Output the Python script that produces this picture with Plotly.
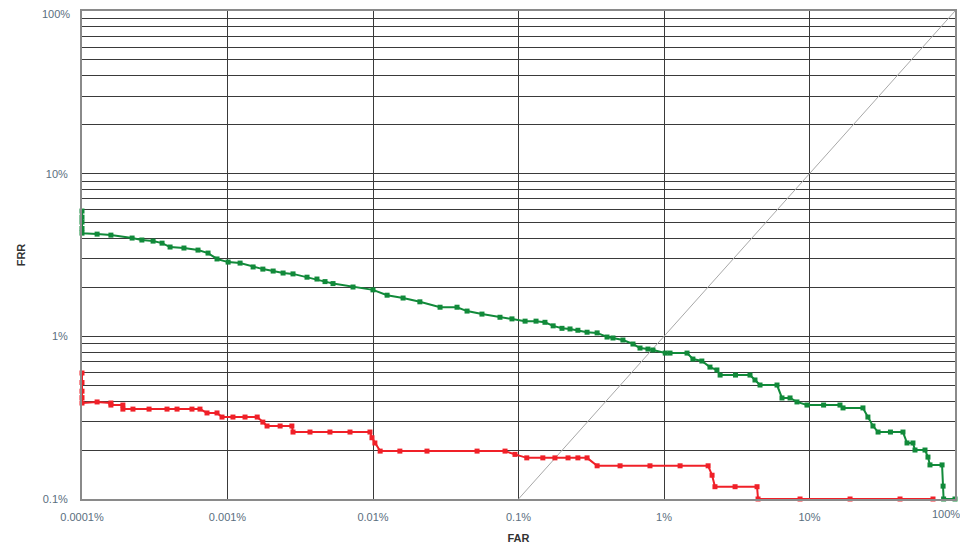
import plotly.graph_objects as go

# ---- data (percent) ----
green_far = [1e-4, 1e-4, 1e-4, 1e-4, 1e-4,
             1.27e-4, 1.58e-4, 2.21e-4, 2.58e-4, 3.08e-4, 3.55e-4, 4.03e-4, 5.02e-4,
             6.27e-4, 7.35e-4, 8.47e-4, 1.01e-3, 1.22e-3, 1.50e-3, 1.75e-3, 2.06e-3,
             2.41e-3, 2.82e-3, 3.52e-3, 4.12e-3, 4.68e-3, 5.31e-3, 7.29e-3, 0.01,
             0.0125, 0.0161, 0.0210, 0.0289, 0.0378, 0.0443, 0.0561, 0.0746, 0.0902,
             0.111, 0.132, 0.152, 0.173, 0.199, 0.226, 0.256, 0.296, 0.347, 0.406,
             0.446, 0.522, 0.612, 0.684, 0.776, 0.840, 1.02, 1.10, 1.44, 1.58, 1.82,
             2.07, 2.31, 2.43, 3.1, 3.90, 4.22, 4.57, 5.98, 6.47, 7.35, 8.20, 9.61,
             12.5, 16.2, 17.0, 23.3, 25.2, 27.3, 29.6, 36.0, 43.9, 46.8, 51.4, 53.1,
             62.2, 65.2, 67.3, 81.5, 82.8, 83.5, 100]
green_frr = [5.89, 5.4, 5.04, 4.6, 4.31,
             4.25, 4.19, 4.02, 3.91, 3.85, 3.74, 3.54, 3.49,
             3.39, 3.25, 2.99, 2.86, 2.82, 2.67, 2.59, 2.52,
             2.45, 2.42, 2.31, 2.25, 2.17, 2.11, 2.01, 1.93,
             1.79, 1.72, 1.63, 1.51, 1.51, 1.43, 1.37, 1.31, 1.28,
             1.24, 1.24, 1.22, 1.16, 1.12, 1.11, 1.09, 1.06, 1.05, 0.99,
             0.977, 0.949, 0.897, 0.847, 0.835, 0.824, 0.789, 0.789, 0.789, 0.725, 0.705,
             0.647, 0.621, 0.578, 0.578, 0.578, 0.539, 0.502, 0.502, 0.418, 0.418, 0.395, 0.378,
             0.378, 0.378, 0.363, 0.363, 0.319, 0.281, 0.258, 0.258, 0.258, 0.221, 0.221, 0.200,
             0.200, 0.181, 0.162, 0.162, 0.120, 0.1, 0.1]

red_far = [1e-4, 1e-4, 1e-4, 1e-4, 1e-4,
           1.27e-4, 1.58e-4, 1.58e-4, 1.91e-4, 1.91e-4, 2.24e-4, 2.89e-4, 3.84e-4,
           4.50e-4, 5.70e-4, 6.47e-4, 7.23e-4, 8.47e-4, 9.17e-4, 1.09e-3, 1.32e-3,
           1.60e-3, 1.75e-3, 1.87e-3, 2.30e-3, 2.77e-3, 2.82e-3, 3.69e-3, 5.06e-3,
           6.95e-3, 9.53e-3, 9.84e-3, 0.0103, 0.0112, 0.0153, 0.0235, 0.0519, 0.0808,
           0.0946, 0.114, 0.147, 0.178, 0.219, 0.256, 0.296, 0.347, 0.499, 0.801,
           1.29, 2.01, 2.14, 2.24, 3.08, 4.36, 4.43, 8.61, 19.0, 41.9, 70.6]
red_frr = [0.595, 0.52, 0.46, 0.42, 0.389,
           0.395, 0.389, 0.378, 0.378, 0.357, 0.357, 0.357, 0.357,
           0.357, 0.357, 0.357, 0.338, 0.338, 0.319, 0.319, 0.319,
           0.319, 0.297, 0.281, 0.281, 0.281, 0.258, 0.258, 0.258,
           0.258, 0.258, 0.238, 0.221, 0.197, 0.197, 0.197, 0.197, 0.197,
           0.188, 0.179, 0.179, 0.179, 0.179, 0.179, 0.179, 0.160, 0.160, 0.160,
           0.160, 0.160, 0.140, 0.119, 0.119, 0.119, 0.1, 0.1, 0.1, 0.1, 0.1]

diag = [0.1, 100]

x_tickvals = [1e-4, 1e-3, 1e-2, 1e-1, 1, 10]
x_ticktext = ["0.0001%", "0.001%", "0.01%", "0.1%", "1%", "10%"]
x_last_tick = (100, "100%")

y_tickvals = [m * d for d in [0.1, 1, 10] for m in range(1, 10)] + [100]
y_ticktext = [("%g%%" % (m * d)) if m == 1 else "" for d in [0.1, 1, 10]
              for m in range(1, 10)] + [""]
y_top_tick = (100, "100%")

GREEN = "#118a3a"
RED = "#f02028"

fig = go.Figure()
fig.add_trace(go.Scatter(x=diag, y=diag, mode="lines",
                         line=dict(color="#a8a8a8", width=1), hoverinfo="skip",
                         showlegend=False))
fig.add_trace(go.Scatter(x=green_far, y=green_frr, mode="lines+markers",
                         line=dict(color=GREEN, width=2),
                         marker=dict(symbol="square", size=5, color=GREEN),
                         cliponaxis=False, showlegend=False))
fig.add_trace(go.Scatter(x=red_far, y=red_frr, mode="lines+markers",
                         line=dict(color=RED, width=2),
                         marker=dict(symbol="square", size=5, color=RED),
                         cliponaxis=False, showlegend=False))

axis_font = dict(family="Liberation Sans, Arial, sans-serif", size=11, color="#5a6e7e")
title_font = dict(family="Liberation Sans, Arial, sans-serif", size=11, color="#333333")

import math
# "100%" labels placed as annotations so they are not cut at the page edge
fig.add_annotation(x=0, xref="paper", y=math.log10(y_top_tick[0]), yref="y",
                   text=y_top_tick[1], showarrow=False, xanchor="right",
                   yanchor="middle", xshift=-10, yshift=-3, font=axis_font)
fig.add_annotation(x=math.log10(x_last_tick[0]), xref="x", y=0, yref="paper",
                   text=x_last_tick[1], showarrow=False, xanchor="right",
                   yanchor="top", xshift=7, yshift=-7, font=axis_font)

fig.update_layout(
    width=968, height=546,
    margin=dict(l=74, r=21, t=3, b=55),
    paper_bgcolor="white", plot_bgcolor="white",
    xaxis=dict(type="log", range=[-4, 2], tickvals=x_tickvals + [100],
               ticktext=x_ticktext + [""],
               showgrid=True, gridcolor="#3a3a3a", gridwidth=1.2,
               showline=True, linecolor="#8a8a8a", linewidth=2, mirror=True,
               ticks="", tickfont=axis_font, zeroline=False, automargin=False,
               ticklabeloverflow="allow", ticklabelstandoff=7,
               title=dict(text="<b>FAR</b>", font=title_font, standoff=12)),
    yaxis=dict(type="log", range=[-1, 2], tickvals=y_tickvals, ticktext=y_ticktext,
               showgrid=True, gridcolor="#3a3a3a", gridwidth=1.2,
               showline=True, linecolor="#8a8a8a", linewidth=2, mirror=True,
               ticks="", tickfont=axis_font, zeroline=False, automargin=False,
               ticklabeloverflow="allow", ticklabelstandoff=10,
               title=dict(text="<b>FRR</b>", font=title_font, standoff=15)),
)

fig.write_html("out.html")
